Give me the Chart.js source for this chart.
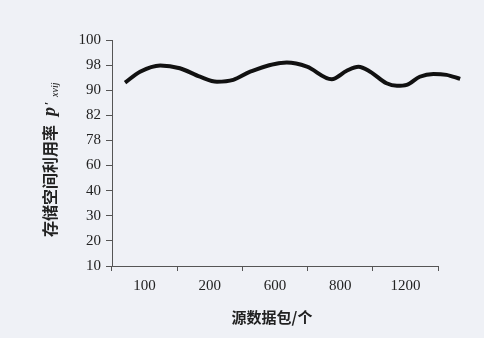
<!DOCTYPE html>
<html>
<head>
<meta charset="utf-8">
<script src="https://cdn.jsdelivr.net/npm/chart.js@4/dist/chart.umd.min.js"></script>
<style>
  html, body { margin: 0; padding: 0; background: #eff1f6; }
  #wrap { width: 484px; height: 338px; }
</style>
</head>
<body>
<div id="wrap"><canvas id="chart"></canvas></div>
<script>
// category labels on the x axis
const packetLabels = ["100", "200", "600", "800", "1200"];
// y axis tick labels, bottom to top (equally spaced on the figure)
const yTickLabels = ["10", "20", "30", "40", "60", "78", "82", "90", "98", "100"];
// curve: position along the x axis (category units) and utilization (%)
const curveX = [0.20, 0.43, 0.74, 1.04, 1.35, 1.61, 1.86, 2.12, 2.68, 2.99, 3.37, 3.60, 3.78, 3.96, 4.21, 4.37, 4.52, 4.72, 4.93, 5.13, 5.34];
const utilization = [92.4, 95.9, 97.9, 97.0, 94.3, 92.7, 93.3, 95.9, 98.2, 97.5, 93.5, 96.2, 97.5, 95.9, 92.2, 91.4, 91.7, 94.3, 95.2, 94.9, 93.6];

// the y axis is not linear: map a value to its position between the printed ticks
function toLevel(v) {
    const nums = yTickLabels.map(Number);
    for (let i = 0; i < nums.length - 1; i++) {
        if (v <= nums[i + 1]) return i + (v - nums[i]) / (nums[i + 1] - nums[i]);
    }
    return nums.length - 1;
}

const points = curveX.map((x, i) => ({ x: x, y: toLevel(utilization[i]) }));

const serif = "'Liberation Serif', 'DejaVu Serif', serif";
const cjk = "'Noto Sans CJK SC', sans-serif";
const ink = "#222";

// axis titles with italic symbol and sub/superscript
const titlesPlugin = {
    id: "titles",
    afterDraw(chart) {
        const ctx = chart.ctx;
        ctx.save();
        ctx.fillStyle = ink;
        // x title
        ctx.font = "bold 15px " + cjk;
        ctx.textAlign = "center";
        ctx.textBaseline = "middle";
        ctx.fillText("源数据包/个", 272, 317);
        // y title, rotated
        ctx.translate(50, 237);
        ctx.rotate(-Math.PI / 2);
        ctx.textAlign = "left";
        ctx.font = "bold 16px " + cjk;
        ctx.fillText("存储空间利用率", 0, 0);
        ctx.textBaseline = "alphabetic";
        ctx.font = "italic bold 18px " + serif;
        ctx.fillText("p", 121, 5);
        ctx.font = "bold 12px " + serif;
        ctx.fillText("\u2032", 132, 3);
        ctx.font = "italic 10px " + serif;
        ctx.fillText("xvij", 140, 8);
        ctx.restore();
    }
};

new Chart(document.getElementById("chart"), {
    type: "line",
    data: {
        labels: packetLabels,
        datasets: [{
            data: points,
            xAxisID: "xl",
            borderColor: "#111",
            borderWidth: 4,
            pointRadius: 0,
            cubicInterpolationMode: "monotone",
            fill: false,
            clip: false
        }]
    },
    options: {
        responsive: true,
        maintainAspectRatio: false,
        animation: false,
        layout: { padding: { left: 0, right: 46, top: 40, bottom: 0 } },
        plugins: { legend: { display: false }, tooltip: { enabled: false } },
        scales: {
            x: {
                type: "category",
                offset: true,
                afterFit(scale) { scale.height = 72; },
                grid: { offset: true, drawOnChartArea: false, drawTicks: true, tickLength: 5, color: "#555" },
                border: { display: true, color: "#555", width: 1 },
                ticks: { color: ink, font: { family: serif, size: 15 }, padding: 6, maxRotation: 0 }
            },
            xl: {
                type: "linear",
                display: false,
                // bounds set here (not as min/max) so the curve can run past the axis end
                afterDataLimits(scale) { scale.min = 0; scale.max = packetLabels.length; }
            },
            y: {
                type: "linear",
                min: 0,
                max: yTickLabels.length - 1,
                afterFit(scale) { scale.width = 112; },
                grid: { drawOnChartArea: false, drawTicks: true, tickLength: 6, color: "#555" },
                border: { display: true, color: "#555", width: 1 },
                ticks: {
                    stepSize: 1,
                    color: ink,
                    font: { family: serif, size: 15 },
                    padding: 5,
                    callback: (v) => yTickLabels[v]
                }
            }
        }
    },
    plugins: [titlesPlugin]
});
</script>
</body>
</html>
